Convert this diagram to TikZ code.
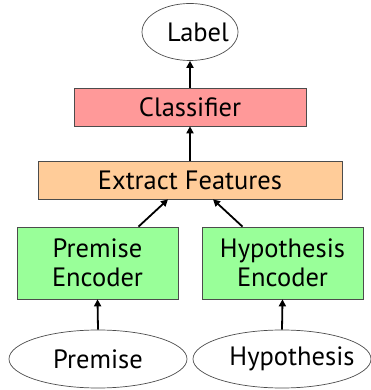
\documentclass[tikz,border=0pt]{standalone}
\usepackage{fontspec}
\setmainfont{PT Sans}
\usetikzlibrary{arrows.meta,shapes.geometric}
\definecolor{clsfill}{HTML}{FF9999}
\definecolor{featfill}{HTML}{FFCC99}
\definecolor{encfill}{HTML}{99FF99}
% shift a text to the right without changing its box width
\newcommand{\nudge}[2]{\hspace*{#1}#2\hspace*{-#1}}
\begin{document}
\begin{tikzpicture}[x=1pt,y=1pt,
  every node/.style={font=\fontsize{26.5}{28.5}\selectfont, inner sep=0pt},
  io/.style={ellipse, draw=black!70, line width=0.7pt, fill=white, inner xsep=-20pt},
  block/.style={rectangle, draw=black!70, line width=0.7pt},
  flow/.style={-{Triangle[length=7pt,width=7pt]}, line width=1.8pt}]
\useasboundingbox (0,0) rectangle (371,390);
\node[io, minimum width=96, minimum height=57] (label) at (190,358) {\nudge{8pt}{Label}};
\node[block, fill=clsfill, minimum width=232, minimum height=38] (cls) at (190,283) {Classifier};
\node[block, fill=featfill, minimum width=304, minimum height=38] (feat) at (190,210) {Extract Features};
\node[block, fill=encfill, minimum width=161, minimum height=72, align=center] (penc) at (97.5,127) {Premise\\Encoder};
\node[block, fill=encfill, minimum width=161, minimum height=72, align=center] (henc) at (282.5,127) {Hypothesis\\Encoder};
\node[io, minimum width=178, minimum height=58] (prem) at (98,31) {Premise};
\node[io, minimum width=178, minimum height=58] (hyp) at (282,31) {\nudge{10pt}{Hypothesis}};
\draw[flow] (cls.north) -- (label.south);
\draw[flow] (feat.north) -- (cls.south);
\draw[flow] ([xshift=41pt]penc.north) -- ([xshift=-22pt]feat.south);
\draw[flow] ([xshift=-40pt]henc.north) -- ([xshift=23pt]feat.south);
\draw[flow] (prem.north) -- (penc.south);
\draw[flow] (hyp.north) -- (henc.south);
\end{tikzpicture}
\end{document}
